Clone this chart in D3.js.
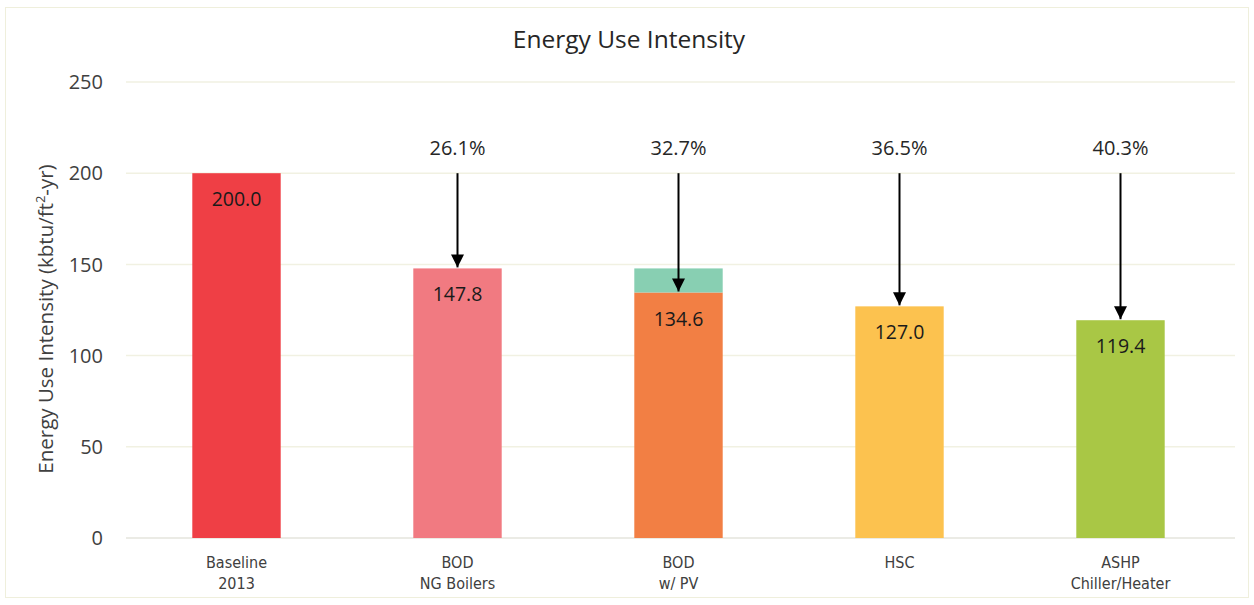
<!DOCTYPE html>
<html><head><meta charset="utf-8">
<script src="https://cdn.jsdelivr.net/npm/d3@7/dist/d3.min.js"></script>
<style>body{margin:0;background:#fff;} svg{display:block;}</style>
</head><body>
<svg id="c" width="1254" height="605"></svg>
<script>
const categories = [["Baseline","2013"],["BOD","NG Boilers"],["BOD","w/ PV"],["HSC",""],["ASHP","Chiller/Heater"]];
const values = [200.0, 147.8, 134.6, 127.0, 119.4];
const pvOffset = [0, 0, 13.2, 0, 0];
const savings = [null, "26.1%", "32.7%", "36.5%", "40.3%"];
const colors = ["#ef3f45", "#f17a81", "#f27f44", "#fcc24f", "#a9c745"];
const pvColor = "#88cfb2";
const yTicks = [0, 50, 100, 150, 200, 250];

const rows = values.map((v,i)=>({i, v, pv:pvOffset[i], s:savings[i], c:colors[i], cat:categories[i]}));

const svg = d3.select("#c");
const font = "'Open Sans', 'Noto Sans', sans-serif";
svg.append("rect").attr("x",5.5).attr("y",7.5).attr("width",1243).attr("height",590)
  .attr("fill","#fff").attr("stroke","#efefdc").attr("stroke-width",1);

const x = d3.scaleBand().domain(d3.range(categories.length)).range([126,1231]).paddingInner(0.6).paddingOuter(0.3);
const y = d3.scaleLinear().domain([0,250]).range([538,82]);
const bw = x.bandwidth();
const cx = d=>x(d.i)+bw/2;

// gridlines
svg.append("g").selectAll("line").data(yTicks).join("line")
  .attr("x1",126).attr("x2",1235).attr("y1",d=>y(d)).attr("y2",d=>y(d))
  .attr("stroke",d=>d===0?"#e4e4dc":"#f1f1e2").attr("stroke-width",1.5);

// y tick labels
svg.append("g").selectAll("text").data(yTicks).join("text")
  .attr("x",103).attr("y",d=>y(d)).attr("dy","0.36em").attr("text-anchor","end")
  .attr("font-family",font).attr("font-size",20).attr("fill","#404040").text(d=>d);

// y label
const yl = svg.append("text").attr("transform","translate(53,319) rotate(-90)")
  .attr("text-anchor","middle").attr("font-family",font).attr("font-size",20.5).attr("fill","#404040");
yl.append("tspan").text("Energy Use Intensity (kbtu/ft");
yl.append("tspan").attr("font-size",13).attr("dy",-8).text("2");
yl.append("tspan").attr("dy",8).text("-yr)");

// title
svg.append("text").attr("x",629).attr("y",48).attr("text-anchor","middle")
  .attr("font-family",font).attr("font-size",24.5).attr("fill","#262626").text("Energy Use Intensity");

// bars
svg.append("g").selectAll("rect").data(rows).join("rect")
  .attr("x",d=>x(d.i)).attr("width",bw).attr("y",d=>y(d.v)).attr("height",d=>y(0)-y(d.v))
  .attr("fill",d=>d.c);
svg.append("g").selectAll("rect").data(rows.filter(d=>d.pv>0)).join("rect")
  .attr("x",d=>x(d.i)).attr("width",bw).attr("y",d=>y(d.v+d.pv)).attr("height",d=>y(d.v)-y(d.v+d.pv))
  .attr("fill",pvColor);

// value labels
svg.append("g").selectAll("text").data(rows).join("text")
  .attr("x",cx).attr("y",d=>y(d.v)+26).attr("dy","0.36em").attr("text-anchor","middle")
  .attr("font-family",font).attr("font-size",19.5).attr("fill","#1a1a1a").text(d=>d.v.toFixed(1));

// arrows
svg.append("defs").append("marker").attr("id","ah").attr("viewBox","0 0 10 10").attr("refX",10).attr("refY",5)
  .attr("markerWidth",6.5).attr("markerHeight",6.5).attr("markerUnits","strokeWidth").attr("orient","auto")
  .append("path").attr("d","M0,0L10,5L0,10Z").attr("fill","#000");
const arr = rows.filter(d=>d.s!==null);
svg.append("g").selectAll("line").data(arr).join("line")
  .attr("x1",cx).attr("x2",cx)
  .attr("y1",y(200)).attr("y2",d=>y(d.v)-1)
  .attr("stroke","#000").attr("stroke-width",2).attr("marker-end","url(#ah)");
svg.append("g").selectAll("text").data(arr).join("text")
  .attr("x",cx).attr("y",148).attr("dy","0.36em").attr("text-anchor","middle")
  .attr("font-family",font).attr("font-size",20).attr("fill","#262626").text(d=>d.s);

// category labels
const cg = svg.append("g").selectAll("text").data(rows).join("text")
  .attr("x",cx).attr("y",568).attr("text-anchor","middle")
  .attr("font-family","'DejaVu Sans Condensed', 'Liberation Sans Narrow', sans-serif").attr("font-size",16).attr("fill","#404040");
cg.append("tspan").text(d=>d.cat[0]);
cg.append("tspan").attr("x",cx).attr("dy",21).text(d=>d.cat[1]);
</script>
</body></html>
